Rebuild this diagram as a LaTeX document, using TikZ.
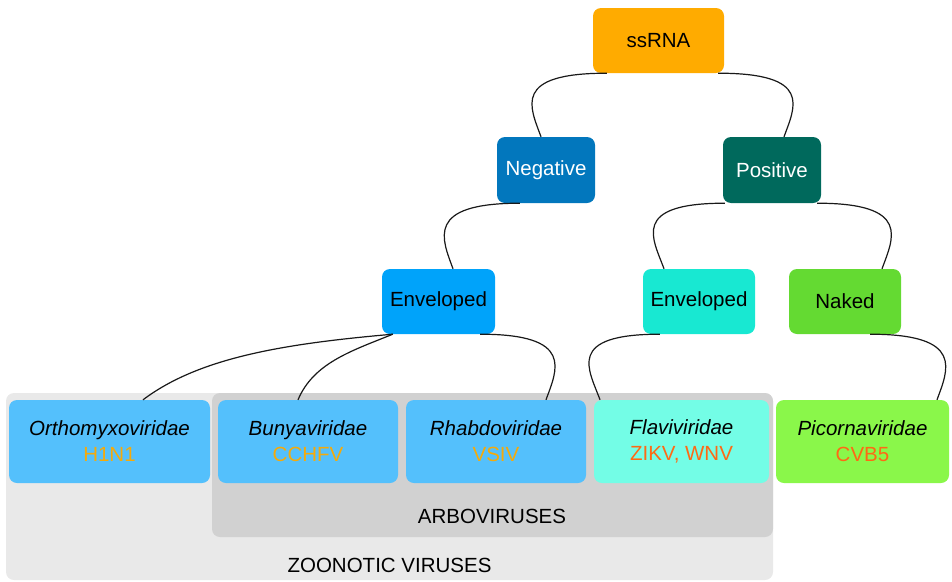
\documentclass[tikz,border=0pt]{standalone}
\usepackage{fontspec}
\setmainfont{Liberation Sans}
\usepackage{tikz}
\usetikzlibrary{positioning}
\definecolor{ssrnaorange}{RGB}{255,171,0}
\definecolor{negblue}{RGB}{2,119,189}
\definecolor{posteal}{RGB}{0,105,92}
\definecolor{envblue}{RGB}{0,163,250}
\definecolor{envturq}{RGB}{24,232,210}
\definecolor{nakedgreen}{RGB}{100,218,50}
\definecolor{famblue}{RGB}{84,192,252}
\definecolor{famturq}{RGB}{115,253,230}
\definecolor{famgreen}{RGB}{138,247,74}
\definecolor{codeyellow}{RGB}{245,170,10}
\definecolor{codered}{RGB}{255,105,20}
\definecolor{zoonoticgray}{RGB}{233,233,233}
\definecolor{arbogray}{RGB}{209,209,209}

\begin{document}
\begin{tikzpicture}[x=1pt,y=1pt,
    box/.style={rounded corners=8pt, inner sep=0pt, align=center,
        font=\fontsize{20.5}{26}\selectfont},
    grouplabel/.style={font=\fontsize{20.5}{26}\selectfont},
    branch/.style={line width=1.2pt, black!90},
    branch left/.style={out=180, in=110, out distance=95pt, in distance=32pt},
    branch right/.style={out=0, in=70, out distance=95pt, in distance=32pt}]
        \useasboundingbox (0,0) rectangle (952,-581);
        \def\rowy{-441.5} % centre line of the family row

        % Groups of viruses
        \fill[zoonoticgray, rounded corners=8pt] (6,-393) rectangle (773,-580);
        \fill[arbogray, rounded corners=8pt] (212,-393) rectangle (773,-537);
        \node[grouplabel] (arbolabel) at (492,-516) {ARBOVIRUSES};
        \node[grouplabel] (zoonoticlabel) at (389.5,-565.5) {ZOONOTIC VIRUSES};

        % Genome and envelope levels
        \node[box, fill=ssrnaorange, minimum width=131pt, minimum height=65pt] (ssrna) at (658.5,-40.5) {ssRNA};
        \node[box, fill=negblue, text=white, minimum width=98pt, minimum height=66pt] (negative) at (546,-170) {Negative};
        \node[box, fill=posteal, text=white, minimum width=98pt, minimum height=66pt] (positive) at (772,-170) {Positive};
        \node[box, fill=envblue, minimum width=113pt, minimum height=65pt] (envneg) at (438.5,-301.5) {Enveloped};
        \node[box, fill=envturq, minimum width=112pt, minimum height=65pt] (envpos) at (699,-301.5) {Enveloped};
        \node[box, fill=nakedgreen, minimum width=112pt, minimum height=65pt] (naked) at (845,-301.5) {Naked};

        % Families with example viruses
        \foreach \name/\x/\w/\fam/\code/\bg/\codecol in
        {
            ortho/109.5/201/Orthomyxoviridae/H1N1/famblue/codeyellow,
            bunya/308/180/Bunyaviridae/CCHFV/famblue/codeyellow,
            rhabdo/496/180/Rhabdoviridae/VSIV/famblue/codeyellow,
            flavi/681.5/175/Flaviviridae/{ZIKV, WNV}/famturq/codered,
            picorna/862.5/173/Picornaviridae/CVB5/famgreen/codered} {
        \node[box, fill=\bg, minimum width=\w pt, minimum height=83pt] (\name) at (\x,\rowy)
            {\textit{\fam}\\\textcolor{\codecol}{\code}};
        }

        % Branches
        \draw[branch] ([xshift=14pt]ssrna.south west) to[branch left] ([xshift=-5pt]negative.north);
        \draw[branch] ([xshift=-6pt]ssrna.south east) to[branch right] ([xshift=12pt]positive.north);
        \draw[branch] ([xshift=23pt]negative.south west) to[branch left] ([xshift=14.5pt]envneg.north);
        \draw[branch] ([xshift=2pt]positive.south west) to[branch left] ([xshift=-35pt]envpos.north);
        \draw[branch] ([xshift=-4pt]positive.south east) to[branch right] ([xshift=37pt]naked.north);
        \draw[branch] ([xshift=11pt]envneg.south west) to[out=185, in=37, out distance=110pt, in distance=70pt] ([xshift=33.5pt]ortho.north);
        \draw[branch] ([xshift=11pt]envneg.south west) to[out=202, in=67, out distance=45pt, in distance=40pt] ([xshift=-10pt]bunya.north);
        \draw[branch] ([xshift=-15pt]envneg.south east) to[branch right] ([xshift=50pt]rhabdo.north);
        \draw[branch] ([xshift=17pt]envpos.south west) to[branch left] ([xshift=-81.5pt]flavi.north);
        \draw[branch] ([xshift=-31pt]naked.south east) to[branch right] ([xshift=74.5pt]picorna.north);
\end{tikzpicture}
\end{document}
